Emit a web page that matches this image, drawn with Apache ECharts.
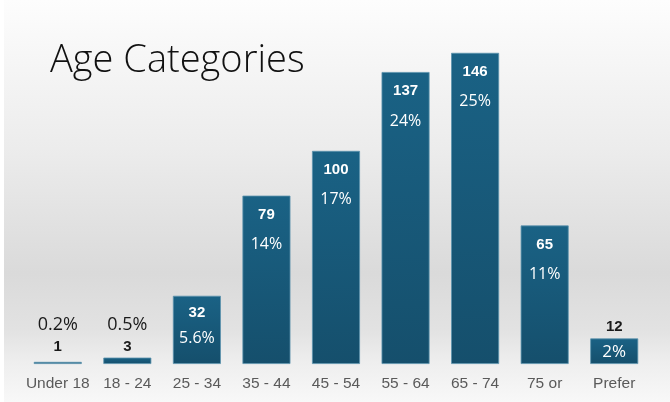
<!DOCTYPE html>
<html>
<head>
<meta charset="utf-8">
<script src="https://cdn.jsdelivr.net/npm/echarts@6/dist/echarts.min.js"></script>
<style>html,body{margin:0;padding:0;background:#fff;}#c{width:670px;height:402px;}</style>
</head>
<body>
<div id="c"></div>
<script>
const categories = ['Under 18', '18 - 24', '25 - 34', '35 - 44', '45 - 54', '55 - 64', '65 - 74', '75 or', 'Prefer'];
const counts = [1, 3, 32, 79, 100, 137, 146, 65, 12];
const percents = ['0.2%', '0.5%', '5.6%', '14%', '17%', '24%', '25%', '11%', '2%'];

const chart = echarts.init(document.getElementById('c'), null, {renderer: 'canvas'});

const richInside = {
  v: {color: '#ffffff', fontFamily: 'Liberation Sans, Arial', fontWeight: 'bold', fontSize: 15, lineHeight: 30, align: 'center'},
  p: {color: '#ffffff', fontFamily: 'Open Sans', fontSize: 16, lineHeight: 30, align: 'center'}
};
const richAbove = {
  v: {color: '#1a1a1a', fontFamily: 'Liberation Sans, Arial', fontWeight: 'bold', fontSize: 15, lineHeight: 22, align: 'center'},
  p: {color: '#1a1a1a', fontFamily: 'Open Sans', fontSize: 18, lineHeight: 22, align: 'center'}
};
const richMixed = {
  v: {color: '#1a1a1a', fontFamily: 'Liberation Sans, Arial', fontWeight: 'bold', fontSize: 15, lineHeight: 25, align: 'center'},
  p: {color: '#ffffff', fontFamily: 'Open Sans', fontSize: 17, lineHeight: 25, align: 'center'}
};

const data = counts.map(function (v, i) {
  const item = {value: v};
  if (v < 10) {
    item.label = {show: true, position: 'top', distance: v < 2 ? 4 : 0, formatter: '{p|' + percents[i] + '}\n{v|' + v + '}', rich: richAbove};
  } else if (v < 20) {
    item.label = {show: true, position: 'insideTop', distance: 0, offset: [0, -24], formatter: '{v|' + v + '}\n{p|' + percents[i] + '}', rich: richMixed};
  } else if (v < 50) {
    item.label = {show: true, position: 'insideTop', distance: 4, formatter: '{v|' + v + '}\n{p|' + percents[i] + '}', rich: {v: Object.assign({}, richInside.v, {lineHeight: 26}), p: Object.assign({}, richInside.p, {lineHeight: 26})}};
  } else {
    item.label = {show: true, position: 'insideTop', distance: 4, formatter: '{v|' + v + '}\n{p|' + percents[i] + '}', rich: richInside};
  }
  return item;
});

chart.setOption({
  animation: false,
  backgroundColor: '#ffffff',
  graphic: [{
    type: 'rect', z: -10, silent: true,
    shape: {x: 4, y: 0, width: 666, height: 402},
    style: {fill: new echarts.graphic.LinearGradient(0, 0, 0, 1, [
      {offset: 0, color: '#fdfdfd'},
      {offset: 0.37, color: '#ececec'},
      {offset: 0.68, color: '#dadada'},
      {offset: 0.82, color: '#e2e2e2'},
      {offset: 0.9, color: '#eeeeee'},
      {offset: 1, color: '#f8f8f8'}
    ])}
  }],
  title: {
    text: 'Age Categories', left: 45, top: 37,
    textStyle: {fontFamily: 'Open Sans', fontWeight: 300, fontSize: 38, color: '#111111'}
  },
  grid: {left: 23, right: 21, top: 23, bottom: 38},
  xAxis: {
    type: 'category', data: categories,
    axisLine: {show: false}, axisTick: {show: false},
    axisLabel: {color: '#5a5a5a', fontFamily: 'Liberation Sans, Arial', fontSize: 15.5, margin: 12, interval: 0}
  },
  yAxis: {type: 'value', min: 0, max: 160, show: false, splitLine: {show: false}},
  series: [{
    type: 'bar', data: data, barWidth: 48,
    itemStyle: {
      color: new echarts.graphic.LinearGradient(0, 0, 0, 1, [
        {offset: 0, color: '#1a6285'},
        {offset: 1, color: '#154f6c'}
      ]),
      borderColor: '#5c93ad', borderWidth: 0.8
    }
  }]
});
</script>
</body>
</html>
